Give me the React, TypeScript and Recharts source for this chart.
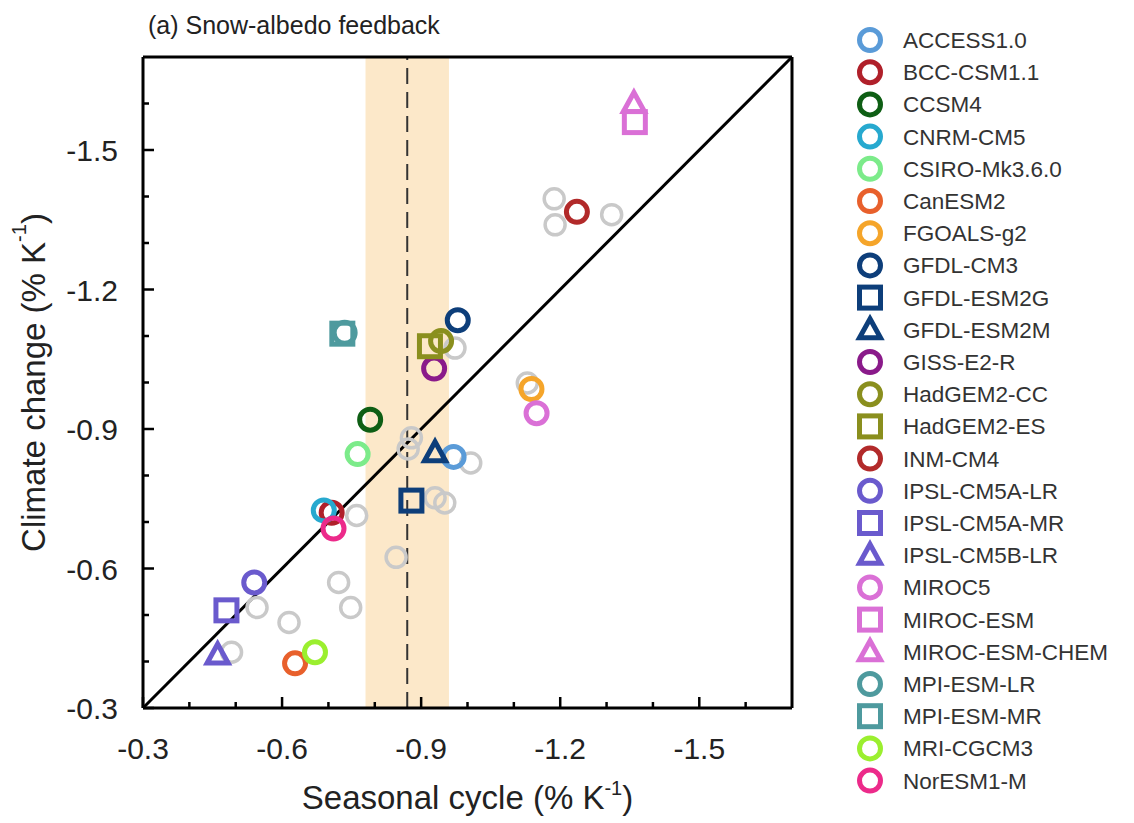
import {
  ScatterChart,
  Scatter,
  XAxis,
  YAxis,
  ReferenceArea,
  ReferenceLine,
  Label,
} from 'recharts';

const models = [
  'ACCESS1.0', 'BCC-CSM1.1', 'CCSM4', 'CNRM-CM5', 'CSIRO-Mk3.6.0', 'CanESM2',
  'FGOALS-g2', 'GFDL-CM3', 'GFDL-ESM2G', 'GFDL-ESM2M', 'GISS-E2-R', 'HadGEM2-CC',
  'HadGEM2-ES', 'INM-CM4', 'IPSL-CM5A-LR', 'IPSL-CM5A-MR', 'IPSL-CM5B-LR', 'MIROC5',
  'MIROC-ESM', 'MIROC-ESM-CHEM', 'MPI-ESM-LR', 'MPI-ESM-MR', 'MRI-CGCM3', 'NorESM1-M',
];

const modelColors = [
  '#5a9bd8', '#b0202a', '#0e5e14', '#27a9cf', '#7ceb8a', '#e8602c',
  '#f5a52a', '#0d3e7a', '#0d3e7a', '#0d3e7a', '#8a1a8a', '#8a8f1e',
  '#8a8f1e', '#b22a2a', '#6a5acd', '#6a5acd', '#6a5acd', '#da70d6',
  '#da70d6', '#da70d6', '#4e9a9e', '#4e9a9e', '#9bef2f', '#ec2a8a',
];

const modelShapes = [
  'circle', 'circle', 'circle', 'circle', 'circle', 'circle',
  'circle', 'circle', 'square', 'triangle', 'circle', 'circle',
  'square', 'circle', 'circle', 'square', 'triangle', 'circle',
  'square', 'triangle', 'circle', 'square', 'circle', 'circle',
];

// seasonal cycle (x) and climate change (y) snow-albedo feedback, % K-1
const seasonalCycle = [
  -0.97, -0.707, -0.79, -0.69, -0.763, -0.628,
  -1.138, -0.979, -0.879, -0.93, -0.928, -0.943,
  -0.919, -1.236, -0.54, -0.48, -0.461, -1.149,
  -1.361, -1.359, -0.735, -0.73, -0.671, -0.711,
];
const climateChange = [
  -0.84, -0.72, -0.92, -0.725, -0.846, -0.396,
  -0.986, -1.134, -0.746, -0.849, -1.03, -1.089,
  -1.078, -1.367, -0.57, -0.51, -0.414, -0.934,
  -1.56, -1.6, -1.107, -1.105, -0.42, -0.686,
];

// grey background points
const otherSeasonal = [
  -1.187, -1.189, -1.311, -1.129, -0.973, -0.879, -0.872, -1.007, -0.93,
  -0.951, -0.761, -0.846, -0.722, -0.748, -0.615, -0.546, -0.491,
];
const otherClimate = [
  -1.395, -1.339, -1.361, -0.999, -1.074, -0.881, -0.857, -0.827, -0.752,
  -0.741, -0.714, -0.624, -0.57, -0.516, -0.484, -0.516, -0.42,
];

const majorTicks = [-0.3, -0.6, -0.9, -1.2, -1.5];
const minorTicks = [-0.4, -0.5, -0.7, -0.8, -1.0, -1.1, -1.3, -1.4, -1.6];
const allTicks = [...majorTicks, ...minorTicks];
const axisDomain = [-1.7, -0.3];
const observedRange = [-0.78, -0.96];
const observedBest = -0.87;

const FONT = '"Liberation Sans", Arial, Helvetica, sans-serif';

function Marker({ cx, cy, shape, color, grey }: any) {
  if (cx == null || cy == null) return null;
  const sw = grey ? 3.5 : 5;
  if (shape === 'square') {
    return <rect x={cx - 10.5} y={cy - 10.5} width={21} height={21} fill="none" stroke={color} strokeWidth={sw} />;
  }
  if (shape === 'triangle') {
    return (
      <path
        d={`M${cx},${cy - 11} L${cx + 10.5},${cy + 8} L${cx - 10.5},${cy + 8} Z`}
        fill="none"
        stroke={color}
        strokeWidth={sw}
        strokeLinejoin="miter"
      />
    );
  }
  return <circle cx={cx} cy={cy} r={grey ? 10 : 10.5} fill="none" stroke={color} strokeWidth={sw} />;
}

function makeTick(side: string) {
  return (props: any) => {
    const { x, y, payload } = props;
    const v = payload.value;
    const major = majorTicks.some((m) => Math.abs(m - v) < 1e-6);
    const len = major ? 11 : 6;
    let line = null;
    let label = null;
    if (side === 'bottom') {
      line = <line x1={x} y1={y} x2={x} y2={y - len} stroke="#000" strokeWidth={2.5} />;
      if (major)
        label = (
          <text x={x} y={y + 51} textAnchor="middle" fontSize={30} fontFamily={FONT} fill="#222">
            {v.toFixed(1)}
          </text>
        );
    } else if (side === 'left') {
      line = <line x1={x} y1={y} x2={x + len} y2={y} stroke="#000" strokeWidth={2.5} />;
      if (major)
        label = (
          <text x={x - 25} y={y + 11} textAnchor="end" fontSize={30} fontFamily={FONT} fill="#222">
            {v.toFixed(1)}
          </text>
        );
    } else if (side === 'top') {
      line = <line x1={x} y1={y} x2={x} y2={y + len} stroke="#000" strokeWidth={2.5} />;
    } else {
      line = <line x1={x} y1={y} x2={x - len} y2={y} stroke="#000" strokeWidth={2.5} />;
    }
    return (
      <g>
        {line}
        {label}
      </g>
    );
  };
}

const axisLine = { stroke: '#000', strokeWidth: 3 };

export default function App() {
  const rowY = (i: number) => 32 + i * 32.2;
  return (
    <div style={{ position: 'relative', width: 1118, height: 815, background: '#fff' }}>
      <ScatterChart width={830} height={815} margin={{ top: 48, right: 45, bottom: 114, left: 134 }}>
        <XAxis
          type="number"
          dataKey="x"
          xAxisId={0}
          domain={axisDomain}
          reversed
          ticks={allTicks}
          interval={0}
          height={1}
          tickSize={0}
          tickMargin={0}
          tickLine={false}
          axisLine={axisLine}
          tick={makeTick('bottom')}
        >
          <Label
            content={(p: any) => {
              const vb = p.viewBox;
              return (
                <text x={vb.x + vb.width / 2} y={vb.y + 101} textAnchor="middle" fontSize={33} fontFamily={FONT} fill="#222">
                  Seasonal cycle (% K
                  <tspan fontSize={20} dy={-14}>-1</tspan>
                  <tspan dy={14}>)</tspan>
                </text>
              );
            }}
          />
        </XAxis>
        <XAxis
          type="number"
          dataKey="x"
          xAxisId="top"
          orientation="top"
          domain={axisDomain}
          reversed
          ticks={allTicks}
          interval={0}
          height={1}
          tickSize={0}
          tickMargin={0}
          tickLine={false}
          axisLine={axisLine}
          tick={makeTick('top')}
        >
          <Label
            content={(p: any) => {
              const vb = p.viewBox;
              return (
                <text x={vb.x + 5} y={vb.y - 22} fontSize={25} fontFamily={FONT} fill="#222">
                  (a) Snow-albedo feedback
                </text>
              );
            }}
          />
        </XAxis>
        <YAxis
          type="number"
          dataKey="y"
          yAxisId={0}
          domain={axisDomain}
          reversed
          ticks={allTicks}
          interval={0}
          width={1}
          tickSize={0}
          tickMargin={0}
          tickLine={false}
          axisLine={axisLine}
          tick={makeTick('left')}
        >
          <Label
            content={(p: any) => {
              const vb = p.viewBox;
              const cx = 25;
              const cy = vb.y + vb.height / 2;
              return (
                <text
                  x={cx}
                  y={cy}
                  transform={`rotate(-90 ${cx} ${cy})`}
                  textAnchor="middle"
                  dominantBaseline="central"
                  fontSize={33}
                  fontFamily={FONT}
                  fill="#222"
                >
                  Climate change (% K
                  <tspan fontSize={20} dy={-14}>-1</tspan>
                  <tspan dy={14}>)</tspan>
                </text>
              );
            }}
          />
        </YAxis>
        <YAxis
          type="number"
          dataKey="y"
          yAxisId="right"
          orientation="right"
          domain={axisDomain}
          reversed
          ticks={allTicks}
          interval={0}
          width={1}
          tickSize={0}
          tickMargin={0}
          tickLine={false}
          axisLine={axisLine}
          tick={makeTick('right')}
        />
        <ReferenceArea
          x1={observedRange[0]}
          x2={observedRange[1]}
          xAxisId={0}
          yAxisId={0}
          fill="#fce8c9"
          fillOpacity={1}
          stroke="none"
        />
        <ReferenceLine x={observedBest} xAxisId={0} yAxisId={0} stroke="#333" strokeWidth={2} strokeDasharray="16 8" />
        <Scatter
          name="other"
          xAxisId={0}
          yAxisId={0}
          data={otherSeasonal.map((x, i) => ({ x, y: otherClimate[i] }))}
          isAnimationActive={false}
          shape={(p: any) => <Marker cx={p.cx} cy={p.cy} shape="circle" color="#c9c9c9" grey />}
        />
        <ReferenceLine
          xAxisId={0}
          yAxisId={0}
          segment={[
            { x: axisDomain[1], y: axisDomain[1] },
            { x: axisDomain[0], y: axisDomain[0] },
          ]}
          stroke="#000"
          strokeWidth={3}
        />
        {models.map((m, i) => (
          <Scatter
            key={m}
            name={m}
            xAxisId={0}
            yAxisId={0}
            data={[{ x: seasonalCycle[i], y: climateChange[i] }]}
            isAnimationActive={false}
            shape={(p: any) => <Marker cx={p.cx} cy={p.cy} shape={modelShapes[i]} color={modelColors[i]} />}
          />
        ))}
      </ScatterChart>
      <svg width={288} height={815} style={{ position: 'absolute', left: 830, top: 0 }}>
        {models.map((m, i) => (
          <g key={m}>
            <Marker cx={32} cy={rowY(i)} shape={modelShapes[i]} color={modelColors[i]} />
            <text x={65} y={rowY(i) + 8} fontSize={22.5} fontFamily={FONT} fill="#333">
              {m}
            </text>
          </g>
        ))}
      </svg>
    </div>
  );
}
